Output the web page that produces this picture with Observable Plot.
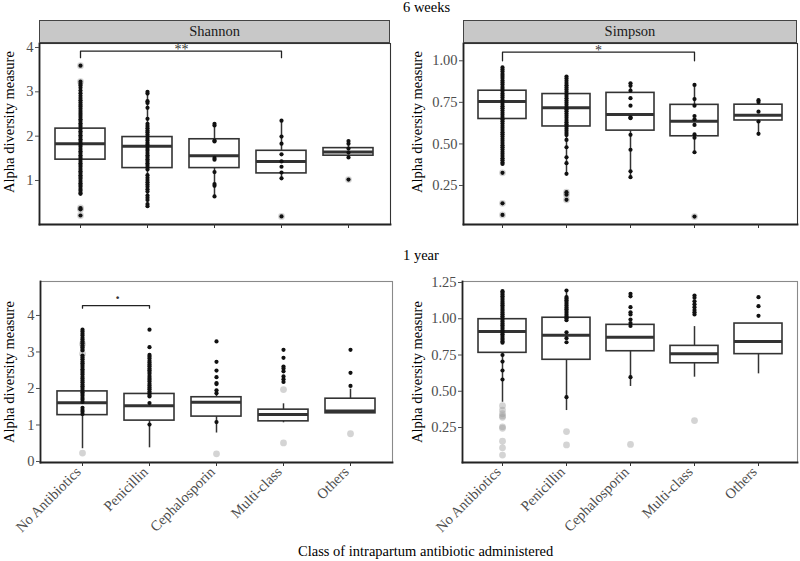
<!DOCTYPE html>
<html>
<head>
<meta charset="utf-8">
<script src="https://cdn.jsdelivr.net/npm/d3@7"></script>
<script src="https://cdn.jsdelivr.net/npm/@observablehq/plot@0.6"></script>
<style>
  html, body { margin: 0; padding: 0; background: #fff; }
  #root { position: relative; width: 800px; height: 561px; overflow: hidden; font-family: "Liberation Serif", "Times New Roman", serif; }
  .abs { position: absolute; }
  .strip { position: absolute; box-sizing: border-box; background: #c8c8c8; border: 1.2px solid #444; text-align: center; font-size: 14.5px; color: #1a1a1a; line-height: 21px; }
  .lbl { position: absolute; font-size: 14.5px; color: #000; line-height: 16px; white-space: nowrap; }
</style>
</head>
<body>
<div id="root"></div>
<script>
const categories = ["No Antibiotics", "Penicillin", "Cephalosporin", "Multi-class", "Others"];

// box statistics per category: [lower whisker, Q1, median, Q3, upper whisker]
const shannon6wBox = [
  [0.70, 1.47, 1.83, 2.17, 3.18],
  [0.42, 1.28, 1.77, 1.98, 3.00],
  [0.64, 1.28, 1.56, 1.93, 2.28],
  [1.05, 1.16, 1.43, 1.67, 2.35],
  [1.52, 1.56, 1.64, 1.73, 1.89]
];
const simpson6wBox = [
  [0.38, 0.65, 0.755, 0.82, 0.96],
  [0.32, 0.605, 0.717, 0.80, 0.905],
  [0.30, 0.58, 0.677, 0.807, 0.865],
  [0.45, 0.546, 0.636, 0.735, 0.855],
  [0.561, 0.641, 0.672, 0.736, 0.763]
];
const shannon1yBox = [
  [0.35, 1.27, 1.61, 1.92, 2.90],
  [0.375, 1.12, 1.53, 1.85, 2.92],
  [0.78, 1.23, 1.62, 1.76, 1.95],
  [1.06, 1.10, 1.29, 1.42, 1.58],
  [1.32, 1.32, 1.38, 1.72, 1.98]
];
const simpson1yBox = [
  [0.424, 0.765, 0.912, 0.997, 1.19],
  [0.367, 0.717, 0.887, 1.007, 1.195],
  [0.533, 0.776, 0.873, 0.958, 0.958],
  [0.597, 0.693, 0.758, 0.813, 0.946],
  [0.62, 0.756, 0.843, 0.967, 0.967]
];

// observed points (black), per category
const shannon6wPoints = [
  [3.59, 3.23, 3.18, 3.14, 3.09, 3.03, 2.97, 2.91, 2.86, 2.81, 2.76, 2.71, 2.67, 2.62, 2.57, 2.52, 2.48, 2.43, 2.38, 2.34, 2.29, 2.25, 2.21, 2.16, 2.11, 2.07, 2.02, 1.98, 1.93, 1.89, 1.84, 1.80, 1.76, 1.71, 1.66, 1.62, 1.57, 1.53, 1.49, 1.44, 1.39, 1.35, 1.31, 1.26, 1.21, 1.17, 1.12, 1.08, 1.04, 0.99, 0.94, 0.90, 0.86, 0.81, 0.77, 0.72, 0.70, 0.38, 0.35, 0.21],
  [3.00, 2.96, 2.79, 2.75, 2.64, 2.39, 2.28, 2.23, 2.18, 2.13, 2.09, 2.04, 1.99, 1.94, 1.90, 1.85, 1.81, 1.76, 1.71, 1.67, 1.62, 1.57, 1.53, 1.48, 1.44, 1.39, 1.35, 1.30, 1.25, 1.12, 1.06, 1.01, 0.96, 0.91, 0.86, 0.80, 0.75, 0.66, 0.61, 0.56, 0.47, 0.42],
  [2.28, 2.24, 1.90, 1.88, 1.51, 1.47, 1.19, 0.92, 0.88, 0.64],
  [2.35, 1.99, 1.83, 1.59, 1.43, 1.31, 1.18, 1.05, 0.19],
  [1.89, 1.83, 1.72, 1.63, 1.52, 1.02]
];
const simpson6wPoints = [
  [0.96, 0.947, 0.935, 0.921, 0.909, 0.896, 0.882, 0.870, 0.857, 0.843, 0.831, 0.818, 0.804, 0.792, 0.779, 0.765, 0.753, 0.740, 0.726, 0.714, 0.701, 0.687, 0.675, 0.662, 0.648, 0.636, 0.623, 0.609, 0.597, 0.584, 0.570, 0.558, 0.545, 0.531, 0.519, 0.506, 0.492, 0.480, 0.467, 0.453, 0.441, 0.428, 0.414, 0.402, 0.389, 0.38, 0.326, 0.143, 0.073],
  [0.905, 0.893, 0.880, 0.866, 0.853, 0.840, 0.827, 0.814, 0.801, 0.788, 0.774, 0.761, 0.748, 0.735, 0.722, 0.709, 0.696, 0.683, 0.670, 0.657, 0.644, 0.631, 0.618, 0.605, 0.592, 0.579, 0.566, 0.553, 0.524, 0.48, 0.42, 0.384, 0.32, 0.21, 0.195, 0.164],
  [0.865, 0.85, 0.82, 0.775, 0.73, 0.66, 0.655, 0.555, 0.465, 0.335, 0.30],
  [0.855, 0.77, 0.73, 0.668, 0.648, 0.614, 0.557, 0.537, 0.45, 0.063],
  [0.763, 0.752, 0.694, 0.635, 0.561]
];
const shannon1yPoints = [
  [3.61, 3.56, 3.50, 3.45, 3.39, 3.34, 3.29, 3.24, 3.18, 3.13, 3.08, 3.04, 2.90, 2.85, 2.80, 2.74, 2.69, 2.64, 2.59, 2.53, 2.48, 2.43, 2.38, 2.32, 2.27, 2.22, 2.17, 2.11, 2.06, 2.01, 1.96, 1.90, 1.85, 1.80, 1.74, 1.69, 1.63, 1.47, 1.41, 1.36, 1.30],
  [3.61, 3.13, 2.92, 2.87, 2.82, 2.76, 2.71, 2.66, 2.61, 2.55, 2.50, 2.45, 2.40, 2.34, 2.29, 2.24, 2.19, 2.13, 2.08, 2.03, 1.98, 1.92, 1.87, 1.82, 1.78, 1.60, 1.01],
  [3.29, 2.73, 2.49, 2.31, 2.15, 2.12, 1.95, 1.87, 1.08],
  [3.06, 2.84, 2.60, 2.55, 2.47, 2.33, 2.25, 2.18],
  [3.06, 2.43, 2.07]
];
const simpson1yPoints = [
  [1.19, 1.18, 1.168, 1.155, 1.143, 1.131, 1.118, 1.106, 1.093, 1.081, 1.068, 1.056, 1.043, 1.031, 1.018, 1.006, 0.993, 0.981, 0.968, 0.956, 0.943, 0.931, 0.918, 0.906, 0.893, 0.881, 0.868, 0.856, 0.843, 0.835, 0.75, 0.705, 0.643, 0.581],
  [1.195, 1.15, 1.14, 1.128, 1.116, 1.103, 1.091, 1.078, 1.066, 1.053, 1.041, 1.028, 1.016, 1.003, 0.99, 0.907, 0.866, 0.838, 0.459],
  [1.172, 1.155, 1.08, 1.045, 1.03, 0.995, 0.97, 0.95, 0.597],
  [1.16, 1.145, 1.12, 1.10, 1.08, 1.06, 1.045, 1.03],
  [1.149, 1.087, 1.02]
];

// boxplot outliers (grey), per category
const shannon6wOutliers = [[3.59, 3.23, 0.38, 0.35, 0.21], [], [], [0.19], [1.02]];
const simpson6wOutliers = [[0.326, 0.143, 0.073], [0.21, 0.195, 0.164], [], [0.063], []];
const shannon1yOutliers = [[3.22, 2.95, 0.23], [], [0.21], [1.97, 0.51], [0.76]];
const simpson1yOutliers = [[0.40, 0.37, 0.345, 0.33, 0.32, 0.255, 0.245, 0.155, 0.11, 0.06], [0.222, 0.13], [0.133], [0.298], []];

const boxRows = (box) => categories.map((c, i) => ({cat: c, lo: box[i][0], q1: box[i][1], med: box[i][2], q3: box[i][3], hi: box[i][4]}));
const pointRows = (pts) => pts.flatMap((arr, i) => arr.map(v => ({cat: categories[i], v})));

const FONT = "'Liberation Serif', 'Times New Roman', serif";

function panel({box, points, outliers, yDomain, yTicks, yFormat, width, height, mt, mb, ml, mr, showX, bracket, labelDx, labelDy}) {
  const marks = [
    Plot.frame({stroke: showX ? "#8a8a8a" : "#333", strokeWidth: 1.1}),
    Plot.frame({anchor: "left", stroke: "#222", strokeWidth: 1.8}),
    Plot.frame({anchor: "bottom", stroke: "#222", strokeWidth: 1.8}),
    Plot.ruleX(boxRows(box), {x: "cat", y1: "lo", y2: "hi", stroke: "#333", strokeWidth: 1.5}),
    Plot.barY(boxRows(box), {x: "cat", y1: "q1", y2: "q3", fill: "white", stroke: "#333", strokeWidth: 1.6}),
    Plot.tickY(boxRows(box), {x: "cat", y: "med", stroke: "#333", strokeWidth: 3}),
    Plot.dot(pointRows(outliers), {x: "cat", y: "v", r: 3.4, fill: "#999", fillOpacity: 0.42, stroke: "none"}),
    Plot.dot(pointRows(points), {x: "cat", y: "v", r: 2.1, fill: "#111", stroke: "none"}),
    Plot.axisY({ticks: yTicks, tickFormat: yFormat, tickSize: 4, tickPadding: 2, color: "#4d4d4d", label: null, fontSize: 14.5}),
    Plot.axisX({tickSize: 4, color: "#333", label: null, tickFormat: () => ""}),
    Plot.text(["Alpha diversity measure"], {text: d => d, frameAnchor: "left", textAnchor: "middle", lineAnchor: "middle", rotate: -90, dx: labelDx, dy: labelDy, fill: "#000", fontSize: 14.5})
  ];
  if (showX) {
    marks.push(Plot.axisX({tickSize: 0, tickPadding: 5, color: "#4d4d4d", label: null, fontSize: 14.5, tickRotate: -45, dx: -4, dy: 2}));
  }
  if (bracket) {
    const [c1, c2, yTop, yEnd, label, dxLabel, dyLabel, fsz, fw] = bracket;
    marks.push(Plot.line([{x: c1, y: yEnd}, {x: c1, y: yTop}, {x: c2, y: yTop}, {x: c2, y: yEnd}], {x: "x", y: "y", stroke: "#222", strokeWidth: 1.3}));
    marks.push(Plot.text([label], {text: d => d, x: () => c1, y: () => yTop, dx: dxLabel, dy: dyLabel, textAnchor: "middle", lineAnchor: "middle", fill: "#333", fontSize: fsz, fontWeight: fw}));
  }
  return Plot.plot({
    width, height, marginTop: mt, marginBottom: mb, marginLeft: ml, marginRight: mr,
    style: {fontFamily: FONT, fontSize: "14.5px", background: "transparent", overflow: "visible"},
    x: {type: "band", domain: categories, paddingInner: 0.25, paddingOuter: 0.225, axis: null},
    y: {domain: yDomain, axis: null},
    marks
  });
}

const root = document.getElementById("root");
function place(el, left, top) {
  const d = document.createElement("div");
  d.className = "abs";
  d.style.left = left + "px"; d.style.top = top + "px";
  d.appendChild(el);
  root.appendChild(d);
}
function label(text, left, top, cls) {
  const d = document.createElement("div");
  d.className = cls || "lbl";
  d.textContent = text;
  d.style.left = left + "px"; d.style.top = top + "px";
  root.appendChild(d);
  return d;
}

place(panel({box: shannon6wBox, points: shannon6wPoints, outliers: shannon6wOutliers,
  yDomain: [0.0075, 4.09], yTicks: [1, 2, 3, 4], yFormat: d3.format("d"),
  width: 400, height: 240, mt: 43, mb: 16, ml: 39, mr: 10, showX: false,
  bracket: ["No Antibiotics", "Multi-class", 3.92, 3.77, "**", 101, -2, 14, "normal"], labelDx: -30, labelDy: -12}), 0, 0);

place(panel({box: simpson6wBox, points: simpson6wPoints, outliers: simpson6wOutliers,
  yDomain: [0.0154, 1.104], yTicks: [0.25, 0.5, 0.75, 1.0], yFormat: d3.format(".2f"),
  width: 400, height: 240, mt: 43, mb: 16, ml: 63, mr: 3, showX: false,
  bracket: ["No Antibiotics", "Multi-class", 1.052, 1.0, "*", 96, -2, 14, "normal"], labelDx: -46, labelDy: -12}), 400, 0);

place(panel({box: shannon1yBox, points: shannon1yPoints, outliers: shannon1yOutliers,
  yDomain: [-0.0274, 4.93], yTicks: [0, 1, 2, 3, 4], yFormat: d3.format("d"),
  width: 400, height: 300, mt: 41, mb: 78, ml: 40, mr: 8, showX: true,
  bracket: ["No Antibiotics", "Penicillin", 4.27, 4.20, ".", 35, -12, 17, "bold"], labelDx: -31, labelDy: 0}), 0, 240);

place(panel({box: simpson1yBox, points: simpson1yPoints, outliers: simpson1yOutliers,
  yDomain: [0.0086, 1.257], yTicks: [0.25, 0.5, 0.75, 1.0, 1.25], yFormat: d3.format(".2f"),
  width: 400, height: 300, mt: 41, mb: 78, ml: 62, mr: 3, showX: true,
  bracket: null, labelDx: -45, labelDy: 0}), 400, 240);

// facet strips
const s1 = label("Shannon", 39, 19.5, "strip"); s1.style.width = "351px"; s1.style.height = "23px";
const s2 = label("Simpson", 463, 19.5, "strip"); s2.style.width = "334px"; s2.style.height = "23px";

label("6 weeks", 403, -1);
label("1 year", 403, 247);
label("Class of intrapartum antibiotic administered", 298, 543);
</script>
</body>
</html>
